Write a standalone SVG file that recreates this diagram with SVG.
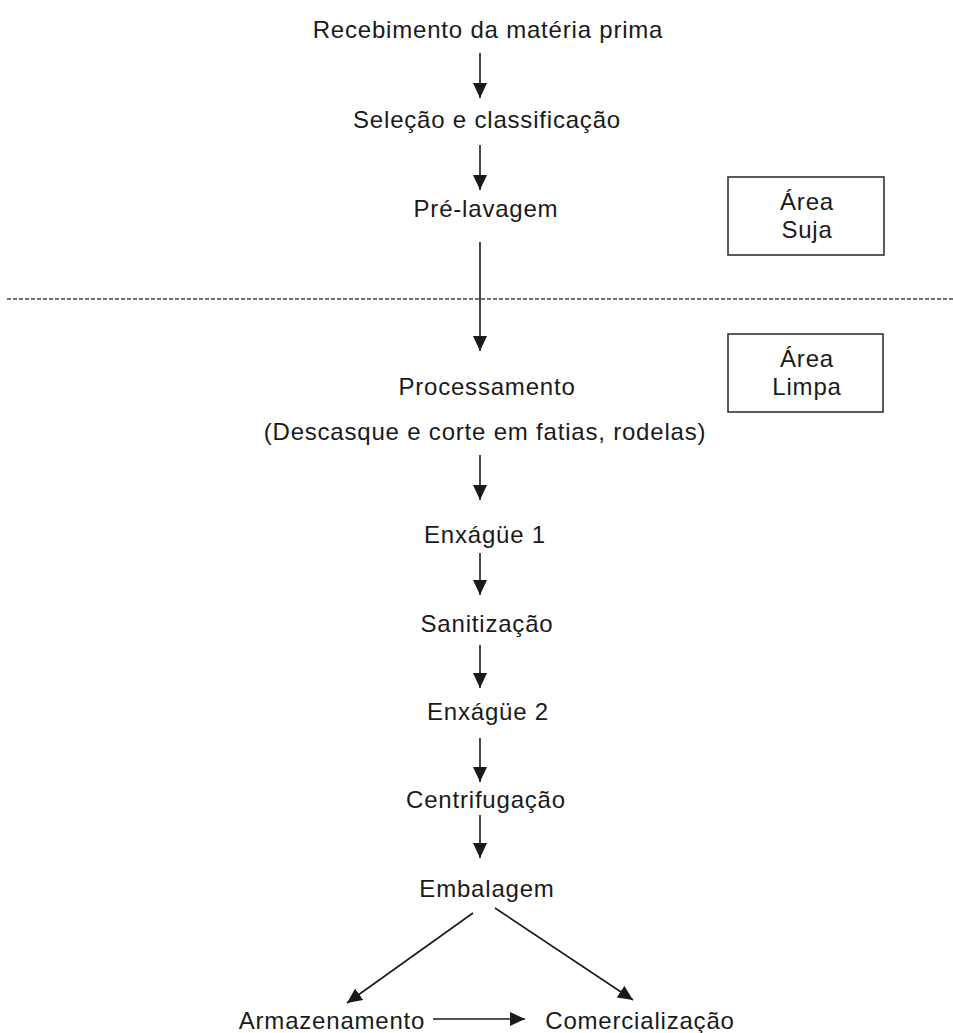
<svg xmlns="http://www.w3.org/2000/svg" width="953" height="1033" viewBox="0 0 953 1033">
<style>
  text { font-family: "Liberation Sans", Arial, sans-serif; font-size: 24px; letter-spacing: 0.8px; fill: #1a1a1a; text-anchor: middle; }
  .arrow { stroke: #1a1a1a; stroke-width: 1.6; fill: none; marker-end: url(#ah); }
  .box { fill: #ffffff; stroke: #333333; stroke-width: 1.6; }
  .divider { stroke: #444444; stroke-width: 1.5; stroke-dasharray: 4 2; }
</style>
<defs>
  <marker id="ah" markerUnits="userSpaceOnUse" markerWidth="15" markerHeight="14" refX="15" refY="7" orient="auto">
    <path d="M0,0 L15,7 L0,14 Z" fill="#1a1a1a"/>
  </marker>
</defs>
<rect width="953" height="1033" fill="#ffffff"/>
<line class="divider" x1="7" y1="299" x2="953" y2="299"/>
<g id="n1"><text x="488" y="38">Recebimento da matéria prima</text></g>
<g id="n2"><text x="487" y="128">Seleção e classificação</text></g>
<g id="n3"><text x="486" y="217">Pré-lavagem</text></g>
<g id="areaSuja"><rect class="box" x="728" y="177" width="156" height="78"/><text x="807" y="210">Área</text><text x="807" y="238">Suja</text></g>
<g id="areaLimpa"><rect class="box" x="728" y="334" width="155" height="78"/><text x="807" y="367">Área</text><text x="807" y="395">Limpa</text></g>
<g id="n4"><text x="487" y="395">Processamento</text><text x="485" y="440">(Descasque e corte em fatias, rodelas)</text></g>
<g id="n5"><text x="485" y="543">Enxágüe 1</text></g>
<g id="n6"><text x="487" y="632">Sanitização</text></g>
<g id="n7"><text x="488" y="720">Enxágüe 2</text></g>
<g id="n8"><text x="486" y="808">Centrifugação</text></g>
<g id="n9"><text x="487" y="897">Embalagem</text></g>
<g id="n10"><text x="332" y="1029">Armazenamento</text></g>
<g id="n11"><text x="640" y="1029">Comercialização</text></g>
<g id="connectors">
  <line class="arrow" x1="480" y1="53" x2="480" y2="98"/>
  <line class="arrow" x1="480" y1="145" x2="480" y2="190"/>
  <line class="arrow" x1="480" y1="242" x2="480" y2="351"/>
  <line class="arrow" x1="480" y1="455" x2="480" y2="500"/>
  <line class="arrow" x1="480" y1="553" x2="480" y2="595"/>
  <line class="arrow" x1="480" y1="645" x2="480" y2="688"/>
  <line class="arrow" x1="480" y1="738" x2="480" y2="782"/>
  <line class="arrow" x1="480" y1="815" x2="480" y2="858"/>
  <line class="arrow" x1="473" y1="913" x2="347" y2="1003"/>
  <line class="arrow" x1="495" y1="908" x2="633" y2="1000"/>
  <line class="arrow" x1="433" y1="1019" x2="525" y2="1019"/>
</g>
</svg>
